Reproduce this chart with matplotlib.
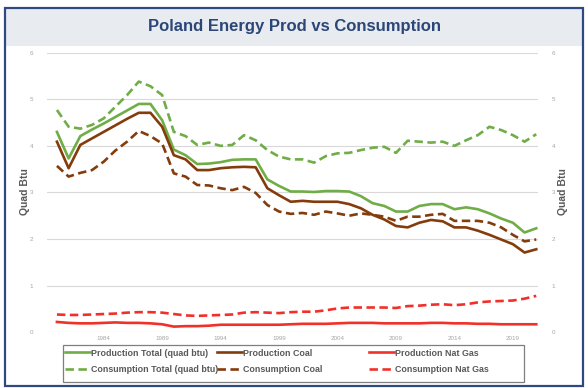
import matplotlib
matplotlib.use("Agg")
import matplotlib.pyplot as plt
from matplotlib.patches import Rectangle
from matplotlib.lines import Line2D

years = list(range(1980, 2022))

prod_total = [4.30, 3.73, 4.21, 4.35, 4.48, 4.62, 4.76, 4.90, 4.90, 4.55, 3.92, 3.80, 3.61, 3.62, 3.65, 3.70,
              3.71, 3.71, 3.28, 3.14, 3.02, 3.02, 3.01, 3.03, 3.03, 3.02, 2.92, 2.77, 2.71, 2.59, 2.59, 2.71,
              2.75, 2.75, 2.64, 2.68, 2.64, 2.55, 2.44, 2.35, 2.14, 2.23]
prod_coal = [4.09, 3.52, 4.02, 4.16, 4.30, 4.44, 4.58, 4.71, 4.71, 4.41, 3.80, 3.71, 3.48, 3.48, 3.52, 3.54,
             3.55, 3.54, 3.09, 2.94, 2.80, 2.82, 2.80, 2.80, 2.80, 2.75, 2.66, 2.52, 2.42, 2.28, 2.25, 2.35,
             2.41, 2.38, 2.25, 2.25, 2.18, 2.09, 1.99, 1.89, 1.71, 1.78]
prod_gas = [0.22, 0.20, 0.19, 0.19, 0.20, 0.21, 0.20, 0.20, 0.19, 0.17, 0.12, 0.13, 0.13, 0.14, 0.16, 0.16,
            0.16, 0.16, 0.16, 0.16, 0.17, 0.18, 0.18, 0.18, 0.19, 0.20, 0.20, 0.20, 0.19, 0.19, 0.19, 0.19,
            0.20, 0.20, 0.19, 0.19, 0.18, 0.18, 0.17, 0.17, 0.17, 0.17]
cons_total = [4.77, 4.41, 4.37, 4.45, 4.59, 4.84, 5.09, 5.38, 5.28, 5.09, 4.30, 4.21, 4.02, 4.07, 4.00, 4.02,
              4.23, 4.12, 3.91, 3.77, 3.71, 3.71, 3.64, 3.78, 3.84, 3.85, 3.91, 3.96, 3.98, 3.85, 4.11, 4.09,
              4.07, 4.09, 4.00, 4.12, 4.23, 4.41, 4.34, 4.23, 4.09, 4.25]
cons_coal = [3.57, 3.34, 3.42, 3.48, 3.66, 3.90, 4.09, 4.32, 4.21, 4.05, 3.41, 3.34, 3.16, 3.15, 3.09, 3.05,
             3.12, 2.99, 2.73, 2.59, 2.54, 2.56, 2.52, 2.59, 2.55, 2.50, 2.55, 2.52, 2.48, 2.39, 2.48, 2.48,
             2.52, 2.54, 2.39, 2.39, 2.39, 2.35, 2.25, 2.09, 1.95, 1.99]
cons_gas = [0.38, 0.37, 0.37, 0.38, 0.39, 0.40, 0.42, 0.43, 0.43, 0.42, 0.39, 0.36, 0.35, 0.36, 0.37, 0.38,
            0.42, 0.43, 0.42, 0.41, 0.43, 0.44, 0.44, 0.47, 0.51, 0.53, 0.53, 0.53, 0.53, 0.52, 0.56, 0.57,
            0.59, 0.60, 0.58, 0.60, 0.64, 0.66, 0.67, 0.68, 0.72, 0.78]

xtick_years = [1984, 1989, 1994, 1999, 2004, 2009, 2014, 2019]
yticks = [0, 1, 2, 3, 4, 5, 6]

title = "Poland Energy Prod vs Consumption"
labels = ["Production Total (quad btu)", "Consumption Total (quad btu)",
          "Production Coal", "Consumption Coal",
          "Production Nat Gas", "Consumption Nat Gas"]

GREEN = "#70AD47"
BROWN = "#843C0C"
RED = "#F2302A"
TXT = "#595959"
TICK = "#A6A6A6"
W, H = 588, 388

fig = plt.figure(figsize=(W / 100, H / 100), dpi=100)
fig.patch.set_facecolor("white")

def fx(px):
    return px / W

def fy(py):
    return 1 - py / H

# frame & title band
fig.patches.append(Rectangle((fx(5), fy(46)), fx(578), fy(8) - fy(46), transform=fig.transFigure,
                             facecolor="#E8ECF1", edgecolor="none", zorder=0))
fig.patches.append(Rectangle((fx(4.5), fy(385.5)), fx(578.5), fy(7.5) - fy(385.5), transform=fig.transFigure,
                             facecolor="none", edgecolor="#2E4A80", lw=1.6, zorder=5))
fig.text(0.5, fy(27), title, ha="center", va="center", fontsize=12, fontweight="bold",
         color="#2B4677", family="Liberation Sans")

ax = fig.add_axes([fx(47), fy(332.2), fx(538) - fx(47), fy(52.7) - fy(332.2)])
ax.set_facecolor("none")

lw = 1.9
dash = (3.2, 1.7)
ax.plot(years, prod_total, color=GREEN, lw=lw, zorder=3)
ax.plot(years, prod_coal, color=BROWN, lw=lw, zorder=3)
ax.plot(years, prod_gas, color=RED, lw=lw, zorder=3)
ax.plot(years, cons_total, color=GREEN, lw=lw, dashes=dash, zorder=3)
ax.plot(years, cons_coal, color=BROWN, lw=lw, dashes=dash, zorder=3)
ax.plot(years, cons_gas, color=RED, lw=lw, dashes=dash, zorder=3)

ax.set_xlim(1979.15, 2021.15)
ax.set_ylim(0, 6)
ax.set_yticks(yticks)
ax.set_xticks(xtick_years)
ax.grid(axis="y", color="#D9D9D9", lw=0.8)
ax.set_axisbelow(True)
for s in ax.spines.values():
    s.set_visible(False)
ax.tick_params(axis="both", length=0, labelsize=4.5, labelcolor=TICK)
ax.tick_params(axis="y", pad=10, labelright=True, right=False)
ax.tick_params(axis="x", pad=3)
for lab in ax.get_xticklabels() + ax.get_yticklabels():
    lab.set_family("Liberation Sans")

fig.text(fx(25), fy(192), "Quad Btu", rotation=90, ha="center", va="center", fontsize=7.5,
         fontweight="bold", color=TXT, family="Liberation Sans")
fig.text(fx(563), fy(192), "Quad Btu", rotation=90, ha="center", va="center", fontsize=7.5,
         fontweight="bold", color=TXT, family="Liberation Sans")

# legend box
fig.patches.append(Rectangle((fx(63), fy(382)), fx(524) - fx(63), fy(345) - fy(382), transform=fig.transFigure,
                             facecolor="white", edgecolor="#7F7F7F", lw=0.9, zorder=4))

handles = [Line2D([], [], color=GREEN, lw=lw), Line2D([], [], color=GREEN, lw=lw, dashes=dash),
           Line2D([], [], color=BROWN, lw=lw), Line2D([], [], color=BROWN, lw=lw, dashes=dash),
           Line2D([], [], color=RED, lw=lw), Line2D([], [], color=RED, lw=lw, dashes=dash)]
col_x = [65, 217, 369]
for i, cx in enumerate(col_x):
    leg = fig.legend(handles[2 * i:2 * i + 2], labels[2 * i:2 * i + 2], loc="upper left",
                     bbox_to_anchor=(fx(cx), fy(348.5)), frameon=False, handlelength=2.8,
                     handletextpad=0.1, labelspacing=0.85, borderpad=0.0, borderaxespad=0,
                     prop={"family": "Liberation Sans", "size": 6.4, "weight": "bold"})
    for t in leg.get_texts():
        t.set_color(TXT)
    leg.set_zorder(6)

fig.savefig("out.png", dpi=100)
